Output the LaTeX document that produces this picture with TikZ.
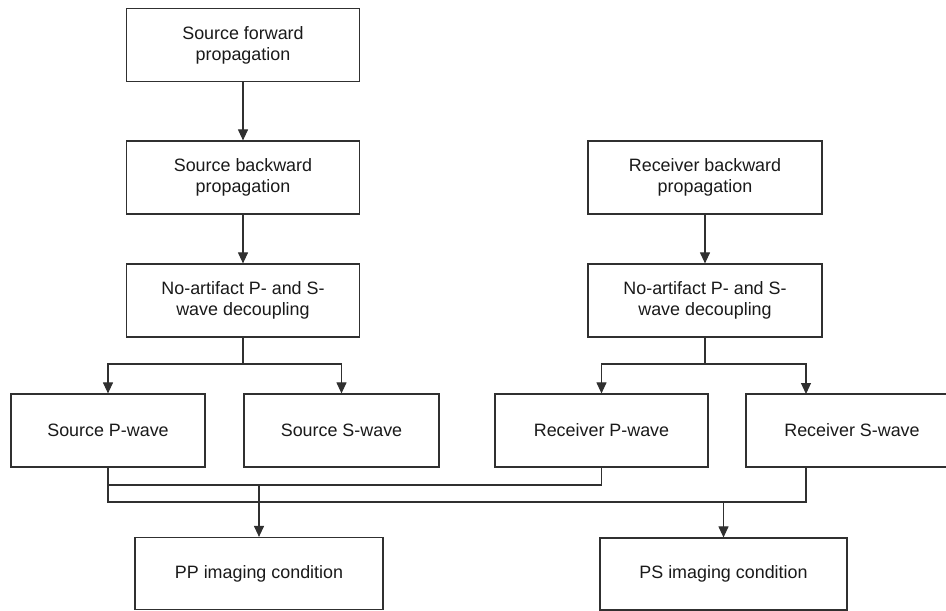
\documentclass[tikz,border=0pt]{standalone}
\usepackage{fontspec}
\setmainfont{Liberation Sans}
\usetikzlibrary{arrows.meta,calc}
\definecolor{linec}{HTML}{303030}
\definecolor{txtc}{HTML}{1A1A1A}
\begin{document}
\begin{tikzpicture}[x=1pt,y=-1pt,
  box/.style={draw=linec, line width=1.2pt, minimum height=73pt, align=center,
    inner sep=0pt, font=\fontsize{17.9}{21}\selectfont, text=txtc},
  conn/.style={draw=linec, line width=1.1pt},
  arr/.style={conn, -{Triangle[width=10pt,length=11pt]}}]
\useasboundingbox[fill=white] (0,0) rectangle (946,611);

% top column nodes
\node[box, minimum width=233pt] (sf) at (243,45) {Source forward\\propagation};
\node[box, minimum width=233pt] (sb) at (243,177.5) {Source backward\\propagation};
\node[box, minimum width=234pt] (rb) at (705,177.5) {Receiver backward\\propagation};
\node[box, minimum width=233pt] (dl) at (243,300.5) {No-artifact P- and S-\\wave decoupling};
\node[box, minimum width=234pt] (dr) at (705,300.5) {No-artifact P- and S-\\wave decoupling};

% wave row
\node[box, minimum width=194pt] (sp) at (108,430.5) {Source P-wave};
\node[box, minimum width=195pt] (ss) at (341.5,430.5) {Source S-wave};
\node[box, minimum width=213pt] (rp) at (601.5,430.5) {Receiver P-wave};
\node[box, minimum width=212pt] (rs) at (852,430.5) {Receiver S-wave};

% imaging conditions
\node[box, minimum width=248pt, minimum height=72pt] (pp) at (259,573.5) {PP imaging condition};
\node[box, minimum width=247pt, minimum height=72pt] (ps) at (723.5,574) {PS imaging condition};

% junction coordinates
\coordinate (sl) at (243,364);
\coordinate (sr) at (705,364);
\coordinate (rsin) at (806,394);
\coordinate (rsout) at (806,467);
\coordinate (ja) at (259,485);
\coordinate (jb) at (723.5,502);

% vertical chain
\draw[arr] (sf.south) -- (sb.north);
\draw[arr] (sb.south) -- (dl.north);
\draw[arr] (rb.south) -- (dr.north);

% split to wave boxes
\draw[conn] (dl.south) -- (sl);
\draw[arr] (sl) -| (sp.north);
\draw[arr] (sl) -| (ss.north);
\draw[conn] (dr.south) -- (sr);
\draw[arr] (sr) -| (rp.north);
\draw[arr] (sr) -| (rsin);

% combine lines
\draw[conn] (sp.south) |- (ja) -| (rp.south);
\draw[conn] (sp.south) |- (jb) -| (rsout);
\draw[arr] (ja) -- (pp.north);
\draw[arr] (jb) -- (ps.north);
\end{tikzpicture}
\end{document}
